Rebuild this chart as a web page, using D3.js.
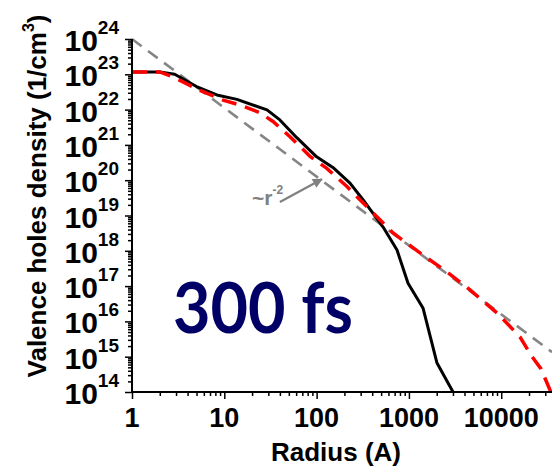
<!DOCTYPE html>
<html>
<head>
<meta charset="utf-8">
<script src="https://cdn.jsdelivr.net/npm/d3@7"></script>
<style>
  html, body { margin: 0; padding: 0; background: #fff; }
  svg { display: block; }
  text { font-family: "Liberation Sans", Arial, sans-serif; font-weight: bold; }
</style>
</head>
<body>
<svg id="chart" width="552" height="468"></svg>
<script>
// ---- data ----
const xTickValues = [1, 10, 100, 1000, 10000];
const xTickLabels = ["1", "10", "100", "1000", "10000"];
const yTickExponents = [14, 15, 16, 17, 18, 19, 20, 21, 22, 23, 24];

const blackRadius = [1, 2, 2.9, 5, 8.3, 13.7, 29, 40, 61, 100, 150, 230, 318, 525, 743, 978, 1420, 2015, 3005];
const blackDensity = [1.17e23, 1.17e23, 1.0e23, 4.5e22, 2.6e22, 1.95e22, 9.8e21, 5.1e21, 1.6e21, 4.6e20, 2.3e20, 8.3e19, 2.8e19, 4.7e18, 1.05e18, 1.2e17, 2.4e16, 6.6e14, 1.0e14];

const redRadius = [1, 2, 2.9, 5.45, 9.7, 14.8, 24.4, 33.7, 51.5, 85, 128, 213, 379, 673, 1318, 2588, 4590, 9010, 16000, 21000, 27000, 34500];
const redDensity = [1.17e23, 1.17e23, 8e22, 3.5e22, 1.86e22, 1.35e22, 8.1e21, 4.6e21, 1.7e21, 4.7e20, 2.2e20, 6.6e19, 1.45e19, 3.2e18, 8.7e17, 2.5e17, 7.8e16, 1.74e16, 3.6e15, 1.1e15, 4.5e14, 1.0e14];

const grayRadius = [1, 35480];
const grayDensity = [1e24, 1.35e15];

const annotationText = "~r";
const annotationExp = "-2";
const annotationArrowFrom = [40, 2.4e19];    // data coords of arrow tail
const annotationArrowTo = [114, 1.07e20];    // data coords of arrow head
const timeLabel = "300 fs";
const xTitle = "Radius (A)";
const yTitle = "Valence holes density (1/cm";

// ---- layout ----
const svg = d3.select("#chart");
const mLeft = 132, mRight = 552, mTop = 39, mBottom = 392;

const x = d3.scaleLog().domain([1, 35480]).range([mLeft, mRight]);
const y = d3.scaleLog().domain([1e14, 1e24]).range([mBottom, mTop]);

const defs = svg.append("defs");
defs.append("clipPath").attr("id", "plotclip")
  .append("rect").attr("x", mLeft).attr("y", mTop - 2).attr("width", mRight - mLeft).attr("height", mBottom - mTop + 2);

// ---- lines ----
const lineGen = (xs, ys) => d3.line().x((d, i) => x(xs[i])).y((d, i) => y(ys[i]))(xs);

const plot = svg.append("g").attr("clip-path", "url(#plotclip)");

plot.append("path")
  .attr("d", lineGen(grayRadius, grayDensity))
  .attr("fill", "none").attr("stroke", "#858585").attr("stroke-width", 2.6)
  .attr("stroke-dasharray", "12,8");

plot.append("path")
  .attr("d", lineGen(blackRadius, blackDensity))
  .attr("fill", "none").attr("stroke", "#000").attr("stroke-width", 3)
  .attr("stroke-linejoin", "round");

plot.append("path")
  .attr("d", lineGen(redRadius, redDensity))
  .attr("fill", "none").attr("stroke", "#ff0000").attr("stroke-width", 3.5)
  .attr("stroke-dasharray", "15,9");

// ---- axes ----
const xMinor = [];
for (let e = 0; e <= 4; e++) for (let m = 2; m <= 9; m++) { const v = m * Math.pow(10, e); if (v <= 35480) xMinor.push(v); }
const yMinor = [];
for (let e = 14; e < 24; e++) for (let m = 2; m <= 9; m++) yMinor.push(m * Math.pow(10, e));

const xAxisMinor = d3.axisBottom(x).tickValues(xMinor).tickSize(4).tickFormat("");
const xAxisMajor = d3.axisBottom(x).tickValues(xTickValues).tickSize(7).tickFormat("");
const yAxisMinor = d3.axisLeft(y).tickValues(yMinor).tickSize(4).tickFormat("");
const yAxisMajor = d3.axisLeft(y).tickValues(yTickExponents.map(e => Math.pow(10, e))).tickSize(7).tickFormat("");

function styleAxis(g) {
  g.selectAll("path").attr("stroke", "#000").attr("stroke-width", 2);
  g.selectAll("line").attr("stroke", "#000").attr("stroke-width", 1.5);
}
svg.append("g").attr("transform", `translate(0,${mBottom})`).call(xAxisMinor).call(g => { g.select(".domain").remove(); styleAxis(g); });
svg.append("g").attr("transform", `translate(0,${mBottom})`).call(xAxisMajor).call(styleAxis)
  .call(g => g.select(".domain").attr("d", `M${mLeft},0H${mRight}`));
svg.append("g").attr("transform", `translate(${mLeft},0)`).call(yAxisMinor).call(g => { g.select(".domain").remove(); styleAxis(g); });
svg.append("g").attr("transform", `translate(${mLeft},0)`).call(yAxisMajor).call(styleAxis)
  .call(g => g.select(".domain").attr("d", `M0,${mTop}V${mBottom}`));

// x tick labels
svg.append("g").selectAll("text").data(xTickValues).join("text")
  .attr("x", d => x(d)).attr("y", 427)
  .attr("text-anchor", "middle").attr("font-size", 27)
  .text((d, i) => xTickLabels[i]);

// y tick labels
const yl = svg.append("g").selectAll("text").data(yTickExponents).join("text")
  .attr("x", 119).attr("y", d => y(Math.pow(10, d)) + 12)
  .attr("text-anchor", "end").attr("font-size", 30);
yl.append("tspan").text("10");
yl.append("tspan").attr("font-size", 19).attr("dy", -17).text(d => d);

// axis titles
svg.append("text").attr("x", 336).attr("y", 461).attr("text-anchor", "middle")
  .attr("font-size", 26).text(xTitle);
const yt = svg.append("text").attr("transform", "translate(46,196) rotate(-90)")
  .attr("text-anchor", "middle").attr("font-size", 26);
yt.append("tspan").text(yTitle);
yt.append("tspan").attr("font-size", 16).attr("dy", -12).text("3");
yt.append("tspan").attr("dy", 12).text(")");

// annotation
defs.append("marker").attr("id", "arrowhead")
  .attr("viewBox", "0 0 10 10").attr("refX", 9).attr("refY", 5)
  .attr("markerWidth", 5).attr("markerHeight", 4.5).attr("markerUnits", "strokeWidth")
  .attr("orient", "auto")
  .append("path").attr("d", "M0,0L10,5L0,10z").attr("fill", "#808080");
svg.append("line")
  .attr("x1", x(annotationArrowFrom[0])).attr("y1", y(annotationArrowFrom[1]))
  .attr("x2", x(annotationArrowTo[0])).attr("y2", y(annotationArrowTo[1]))
  .attr("stroke", "#808080").attr("stroke-width", 2.2).attr("marker-end", "url(#arrowhead)");
const at = svg.append("text").attr("x", 252).attr("y", 205).attr("fill", "#808080").attr("font-size", 21);
at.append("tspan").text(annotationText);
at.append("tspan").attr("font-size", 12).attr("dy", -11).text(annotationExp);

// time label
svg.append("text").attr("x", 173).attr("y", 333)
  .style("font-family", "Lato, 'Open Sans', sans-serif").style("font-weight", "bold")
  .attr("font-size", 70)
  .attr("fill", "#000066").attr("textLength", 180).attr("lengthAdjust", "spacingAndGlyphs")
  .text(timeLabel);
</script>
</body>
</html>
